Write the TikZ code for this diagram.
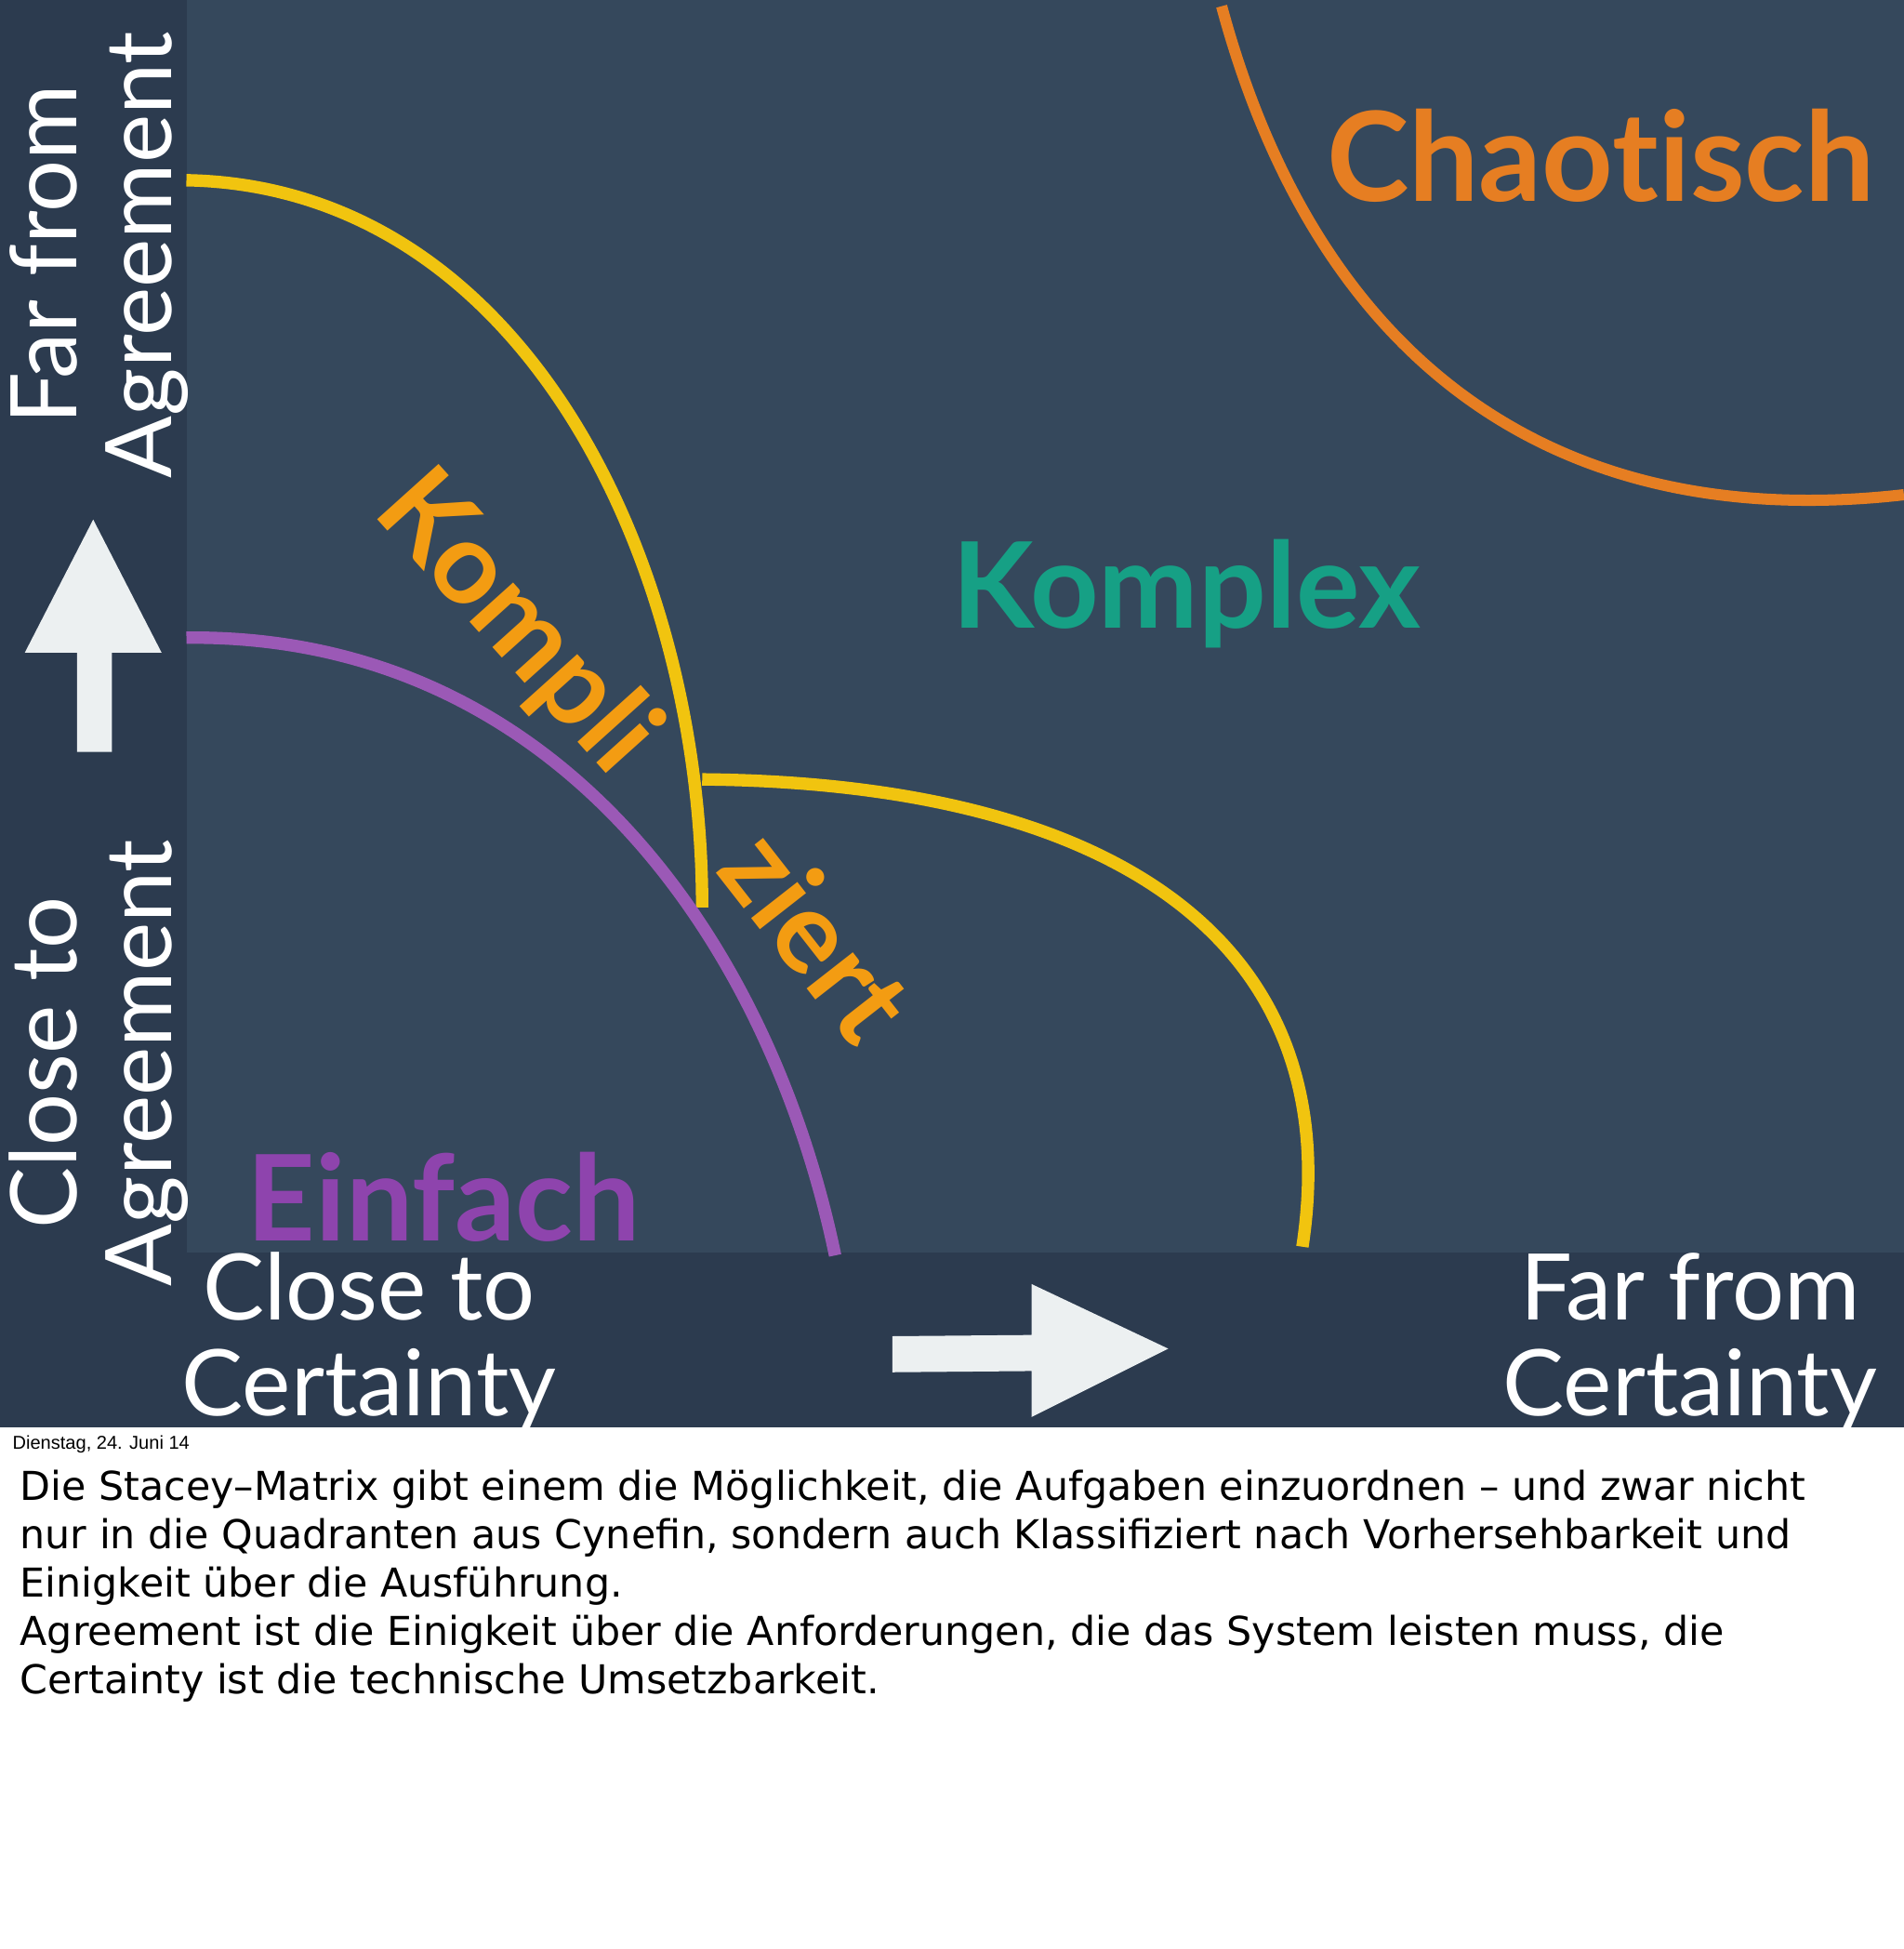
\documentclass[tikz,border=0pt]{standalone}
\usepackage{fontspec}
\setmainfont{Lato}[Ligatures=NoCommon]
\newfontfamily\bodyf{DejaVu Sans}
\newfontfamily\smallf{Liberation Sans}
\begin{document}
\begin{tikzpicture}[x=1pt,y=-1pt,
  lbl/.style={text=white,font=\fontsize{74}{82}\selectfont,inner sep=0},
  big/.style={font=\bfseries\fontsize{100}{100}\selectfont,inner sep=0},
  arr/.style={fill={rgb,255:red,236;green,240;blue,241},draw=none},
  bline/.style={anchor=west,inner sep=0,font=\bodyf\fontsize{32}{32}\selectfont}]
\useasboundingbox (0,0) rectangle (1532,1568);
\fill[white] (0,0) rectangle (1532,1568);
\fill[fill={rgb,255:red,53;green,72;blue,92}] (0,0) rectangle (1532,1148);
\fill[fill={rgb,255:red,44;green,59;blue,79}] (0,0) rectangle (150,1148);
\fill[fill={rgb,255:red,44;green,59;blue,79}] (0,1008) rectangle (1532,1148);
% curves
\draw[line width=10pt,color={rgb,255:red,241;green,196;blue,15}] (150,145) .. controls (420,150) and (565,450) .. (565,730);
\draw[line width=10pt,color={rgb,255:red,241;green,196;blue,15}] (565,627) .. controls (900,630) and (1085,760) .. (1048,1003);
\draw[line width=10pt,color={rgb,255:red,155;green,89;blue,182}] (150,513) .. controls (450,510) and (620,760) .. (672,1010);
\draw[line width=9pt,color={rgb,255:red,230;green,126;blue,34}] (983,5) .. controls (1060,290) and (1250,430) .. (1532,398);
% big labels
\node[big,text={rgb,255:red,230;green,126;blue,34}] (cha) at (1288,125) {Chaotisch};
\node[big,text={rgb,255:red,22;green,160;blue,133},font=\bfseries\fontsize{96}{96}\selectfont] (kom) at (955,478) {Komplex};
\node[big,text={rgb,255:red,142;green,68;blue,173},font=\bfseries\fontsize{96}{96}\selectfont] (ein) at (357,963) {Einfach};
\node[big,text={rgb,255:red,243;green,156;blue,18},rotate=-48,font=\bfseries\fontsize{92}{92}\selectfont] (kp) at (415,502) {Kompli};
\node[big,text={rgb,255:red,243;green,156;blue,18},rotate=-52,font=\bfseries\fontsize{92}{92}\selectfont] (zi) at (658,752) {ziert};
% axis labels
\node[lbl,rotate=90] (fa1) at (35,205) {Far from};
\node[lbl,rotate=90] (fa2) at (118,205) {Agreement};
\node[lbl,rotate=90] (ca1) at (35,855) {Close to};
\node[lbl,rotate=90] (ca2) at (118,855) {Agreement};
\node[lbl] (cc1) at (297,1035) {Close to};
\node[lbl] (cc2) at (297,1118) {Certainty};
\node[lbl] (fc1) at (1360,1035) {Far from};
\node[lbl] (fc2) at (1360,1118) {Certainty};
% arrows
\fill[arr] (75,418) -- (130,525) -- (90,525) -- (90,605) -- (62,605) -- (62,525) -- (20,525) -- cycle;
\fill[arr] (940,1085) -- (830,1140) -- (830,1103) -- (718,1104) -- (718,1075) -- (830,1074) -- (830,1033) -- cycle;
% text below
\node[anchor=west,inner sep=0,font=\smallf\fontsize{15}{15}\selectfont] (date) at (10,1162) {Dienstag, 24. Juni 14};
\node[bline] (l1) at (16,1198) {Die Stacey–Matrix gibt einem die Möglichkeit, die Aufgaben einzuordnen – und zwar nicht};
\node[bline] (l2) at (16,1237) {nur in die Quadranten aus Cynefin, sondern auch Klassifiziert nach Vorhersehbarkeit und};
\node[bline] (l3) at (16,1276) {Einigkeit über die Ausführung.};
\node[bline] (l4) at (16,1315) {Agreement ist die Einigkeit über die Anforderungen, die das System leisten muss, die};
\node[bline] (l5) at (16,1354) {Certainty ist die technische Umsetzbarkeit.};
\end{tikzpicture}
\end{document}
